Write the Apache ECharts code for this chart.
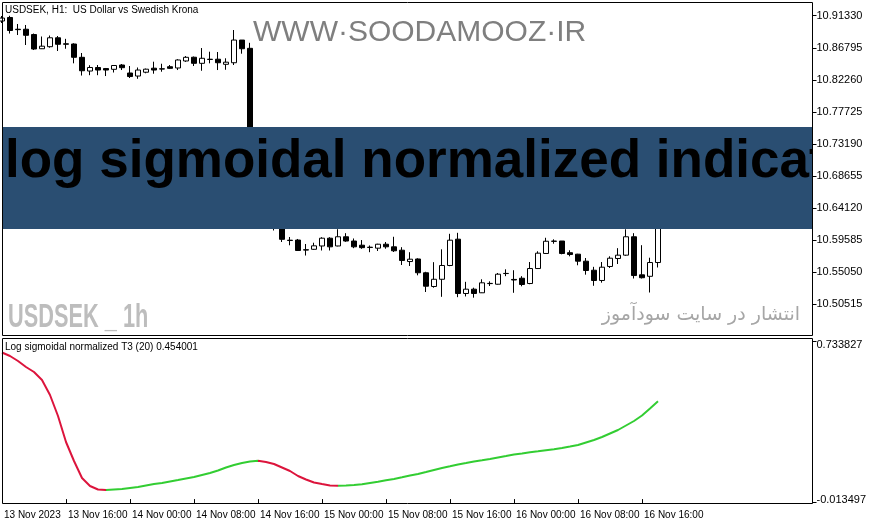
<!DOCTYPE html>
<html>
<head>
<meta charset="utf-8">
<script src="https://cdn.jsdelivr.net/npm/echarts@6/dist/echarts.min.js"></script>
<style>
html,body{margin:0;padding:0;background:#fff;}
#chart{width:871px;height:525px;}
</style>
</head>
<body>
<div id="chart"></div>
<script>
// ---- data ----
const candleOpen = [10.9058,10.9108,10.8942,10.8942,10.8867,10.8666,10.8695,10.8821,10.8736,10.8733,
10.8545,10.8351,10.8401,10.8386,10.8375,10.8436,10.8323,10.8280,10.8334,10.8391,
10.8382,10.8412,10.8394,10.8493,10.8546,10.8460,10.8518,10.8518,10.8446,10.8468,
10.8789,10.8672,10.7093,10.6555,10.6329,10.6216,10.5959,10.5961,10.5824,10.5830,
10.5877,10.5987,10.5877,10.6007,10.5947,10.5888,10.5860,10.5846,10.5902,10.5865,
10.5817,10.5657,10.5693,10.5498,10.5304,10.5406,10.5601,10.5973,10.5205,10.5266,
10.5215,10.5345,10.5336,10.5489,10.5404,10.5421,10.5346,10.5558,10.5771,10.5946,
10.5947,10.5782,10.5761,10.5662,10.5534,10.5389,10.5587,10.5700,10.5747,10.6007,
10.5469,10.5448,10.5643];
const candleClose = [10.9100,10.8924,10.8936,10.8856,10.8662,10.8702,10.8821,10.8729,10.8730,10.8545,
10.8355,10.8401,10.8365,10.8365,10.8429,10.8398,10.8273,10.8365,10.8377,10.8365,
10.8379,10.8389,10.8507,10.8545,10.8460,10.8531,10.8514,10.8468,10.8476,10.8789,
10.8666,10.7093,10.6555,10.6357,10.6216,10.5971,10.5954,10.5813,10.5819,10.5879,
10.5987,10.5865,10.6007,10.5947,10.5865,10.5853,10.5855,10.5902,10.5865,10.5809,
10.5672,10.5690,10.5498,10.5308,10.5406,10.5601,10.5959,10.5205,10.5266,10.5205,
10.5356,10.5348,10.5478,10.5487,10.5396,10.5332,10.5558,10.5775,10.5944,10.5943,
10.5771,10.5756,10.5662,10.5530,10.5389,10.5577,10.5704,10.5747,10.6007,10.5459,
10.5428,10.5643,10.6527];
const candleLow = [10.9030,10.8881,10.8860,10.8719,10.8648,10.8662,10.8681,10.8634,10.8666,10.8460,
10.8287,10.8292,10.8292,10.8280,10.8330,10.8365,10.8252,10.8241,10.8319,10.8313,
10.8341,10.8379,10.8365,10.8481,10.8422,10.8355,10.8460,10.8365,10.8369,10.8436,
10.8596,10.6923,10.6456,10.6216,10.6096,10.5933,10.5887,10.5806,10.5742,10.5823,
10.5813,10.5813,10.5872,10.5936,10.5846,10.5837,10.5789,10.5806,10.5838,10.5792,
10.5608,10.5594,10.5462,10.5226,10.5287,10.5158,10.5591,10.5153,10.5163,10.5146,
10.5212,10.5311,10.5331,10.5450,10.5215,10.5307,10.5336,10.5551,10.5768,10.5909,
10.5759,10.5731,10.5604,10.5471,10.5314,10.5358,10.5566,10.5622,10.5738,10.5417,
10.5417,10.5219,10.5573];
const candleHigh = [10.9129,10.9132,10.9016,10.9002,10.8881,10.8839,10.8853,10.8846,10.8806,10.8743,
10.8606,10.8433,10.8436,10.8394,10.8432,10.8450,10.8422,10.8401,10.8386,10.8483,
10.8454,10.8436,10.8518,10.8563,10.8556,10.8676,10.8624,10.8620,10.8531,10.8931,
10.8789,10.8750,10.7262,10.6668,10.6456,10.6273,10.6004,10.5976,10.5905,10.5923,
10.6001,10.6001,10.6114,10.6058,10.5983,10.5961,10.5884,10.5908,10.5933,10.6007,
10.5860,10.5789,10.5703,10.5512,10.5648,10.5830,10.6049,10.6063,10.5370,10.5287,
10.5406,10.5377,10.5495,10.5547,10.5534,10.5450,10.5650,10.5802,10.5993,10.5971,
10.5947,10.5816,10.5766,10.5707,10.5582,10.5650,10.5731,10.5846,10.6113,10.6058,
10.5888,10.5711,10.6598];
const indicatorValues = [0.6804,0.6642,0.6410,0.6131,0.5899,0.5528,0.4832,0.3857,0.2650,0.1768,
0.0979,0.0608,0.0445,0.0422,0.0445,0.0468,0.0515,0.0561,0.0631,0.0700,
0.0747,0.0817,0.0886,0.0956,0.1025,0.1118,0.1211,0.1327,0.1466,0.1582,
0.1675,0.1745,0.1777,0.1722,0.1629,0.1466,0.1304,0.1072,0.0909,0.0770,
0.0700,0.0631,0.0617,0.0631,0.0654,0.0687,0.0747,0.0803,0.0872,0.0933,
0.1011,0.1095,0.1165,0.1257,0.1350,0.1443,0.1522,0.1606,0.1675,0.1745,
0.1801,0.1861,0.1931,0.2000,0.2070,0.2116,0.2172,0.2218,0.2269,0.2316,
0.2372,0.2441,0.2511,0.2627,0.2743,0.2882,0.3045,0.3207,0.3416,0.3625,
0.3880,0.4205,0.4540];
const dateLabels = ['13 Nov 2023','13 Nov 16:00','14 Nov 00:00','14 Nov 08:00','14 Nov 16:00',
'15 Nov 00:00','15 Nov 08:00','15 Nov 16:00','16 Nov 00:00','16 Nov 08:00','16 Nov 16:00'];
const priceTicks = [10.50515,10.55050,10.59585,10.64120,10.68655,10.73190,10.77725,10.82260,10.86795,10.91330];
const priceMin = 10.4611, priceMax = 10.9320;
const indMin = -0.013497, indMax = 0.733827;
const indLabels = ['0.733827','-0.013497'];
const slotCount = 102; // horizontal bar slots in the window (8px each)

// ---- build ----
const cats = Array.from({length: slotCount}, (_, i) => String(i));
const candleData = candleOpen.map((o, i) => [o, candleClose[i], candleLow[i], candleHigh[i]]);
const indData = indicatorValues.map((v, i) => [i, v]);
const RED = '#dc143c', GREEN = '#32cd32';
const FONT = '"Liberation Sans", Arial, sans-serif';
const showIdx = (idx) => idx % 8 === 0 && idx / 8 < dateLabels.length;

const chart = echarts.init(document.getElementById('chart'), null, {renderer: 'canvas'});
chart.setOption({
  animation: false,
  backgroundColor: '#fff',
  grid: [
    {left: 2, width: 808, top: 2.5, height: 333},
    {left: 2, width: 808, top: 341, height: 161}
  ],
  xAxis: [
    {gridIndex: 0, type: 'category', data: cats, boundaryGap: false, show: false},
    {gridIndex: 1, type: 'category', data: cats, boundaryGap: false, position: 'bottom', offset: 1.5, z: 20,
     axisLine: {show: false},
     axisTick: {show: true, interval: (i) => showIdx(i), length: 4, lineStyle: {color: '#000', width: 1}},
     axisLabel: {show: true, interval: (i) => showIdx(i), formatter: (v, i) => dateLabels[i / 8] || '',
       align: 'left', margin: 7, padding: [0, 0, 0, 2], fontSize: 10, fontFamily: FONT, color: '#000'},
     splitLine: {show: false}}
  ],
  yAxis: [
    {gridIndex: 0, type: 'value', position: 'right', offset: 2.5, min: priceMin, max: priceMax, z: 20,
     axisLine: {show: false}, splitLine: {show: false},
     axisTick: {show: true, customValues: priceTicks, length: 4, lineStyle: {color: '#000'}},
     axisLabel: {show: true, customValues: priceTicks, formatter: (v) => v.toFixed(5),
       margin: 4, fontSize: 11, fontFamily: FONT, color: '#000'}},
    {gridIndex: 1, type: 'value', position: 'right', offset: 2.5, min: indMin, max: indMax, z: 20,
     axisLine: {show: false}, splitLine: {show: false},
     axisTick: {show: true, customValues: [indMax, indMin], length: 4, lineStyle: {color: '#000'}},
     axisLabel: {show: true, customValues: [indMax - 0.0165, indMin + 0.011],
       formatter: (v) => (v > 0.3 ? indLabels[0] : indLabels[1]),
       margin: 4, fontSize: 11, fontFamily: FONT, color: '#000'}}
  ],
  visualMap: {
    show: false, type: 'piecewise', seriesIndex: 1, dimension: 0,
    pieces: [
      {lt: 13, color: RED},
      {gte: 13, lt: 32, color: GREEN},
      {gte: 32, lt: 42, color: RED},
      {gte: 42, color: GREEN}
    ]
  },
  series: [
    {type: 'candlestick', xAxisIndex: 0, yAxisIndex: 0, data: candleData, barWidth: 5, z: 2,
     itemStyle: {color: '#fff', color0: '#000', borderColor: '#000', borderColor0: '#000', borderWidth: 1},
     emphasis: {disabled: true}},
    {type: 'line', xAxisIndex: 1, yAxisIndex: 1, data: indData, showSymbol: false, symbol: 'none', z: 3,
     lineStyle: {width: 2}, emphasis: {disabled: true}}
  ],
  graphic: [
    {type: 'text', x: 253, y: 33, z: 1, style: {text: 'WWW·SOODAMOOZ·IR', font: '30px ' + FONT, fill: '#7f7f7f', verticalAlign: 'middle', textVerticalAlign: 'middle'}},
    {type: 'text', x: 5, y: 10.5, z: 1, style: {text: 'USDSEK, H1:  US Dollar vs Swedish Krona', font: '10px ' + FONT, fill: '#000', verticalAlign: 'middle', textVerticalAlign: 'middle'}},
    {type: 'text', x: 8, y: 318, scaleX: 0.64, z: 1, style: {text: 'USDSEK _ 1h', font: 'bold 34px ' + FONT, fill: '#bdbdbd', verticalAlign: 'middle', textVerticalAlign: 'middle'}},
    {type: 'text', x: 800, y: 315, z: 1, style: {text: 'انتشار در سایت سودآموز', font: '19px "DejaVu Sans", sans-serif', fill: '#a6a6a6', align: 'right', textAlign: 'right', verticalAlign: 'middle', textVerticalAlign: 'middle'}},
    {type: 'text', x: 5, y: 347, z: 1, style: {text: 'Log sigmoidal normalized T3 (20) 0.454001', font: '10px ' + FONT, fill: '#000', verticalAlign: 'middle', textVerticalAlign: 'middle'}},
    {type: 'rect', z: 10, shape: {x: 3, y: 127, width: 809.5, height: 102}, style: {fill: '#2a4e72'}},
    {type: 'text', x: 5, y: 162, z: 11, style: {text: 'log sigmoidal normalized indicator', font: 'bold 53px ' + FONT, fill: '#000', verticalAlign: 'middle', textVerticalAlign: 'middle'}},
    {type: 'rect', z: 12, shape: {x: 813, y: 0, width: 58, height: 525}, style: {fill: '#fff'}},
    {type: 'rect', z: 13, shape: {x: 2.5, y: 2.5, width: 810, height: 333}, style: {fill: 'none', stroke: '#000', lineWidth: 1}},
    {type: 'rect', z: 13, shape: {x: 2.5, y: 338.5, width: 810, height: 165}, style: {fill: 'none', stroke: '#000', lineWidth: 1}}
  ]
});
</script>
</body>
</html>
